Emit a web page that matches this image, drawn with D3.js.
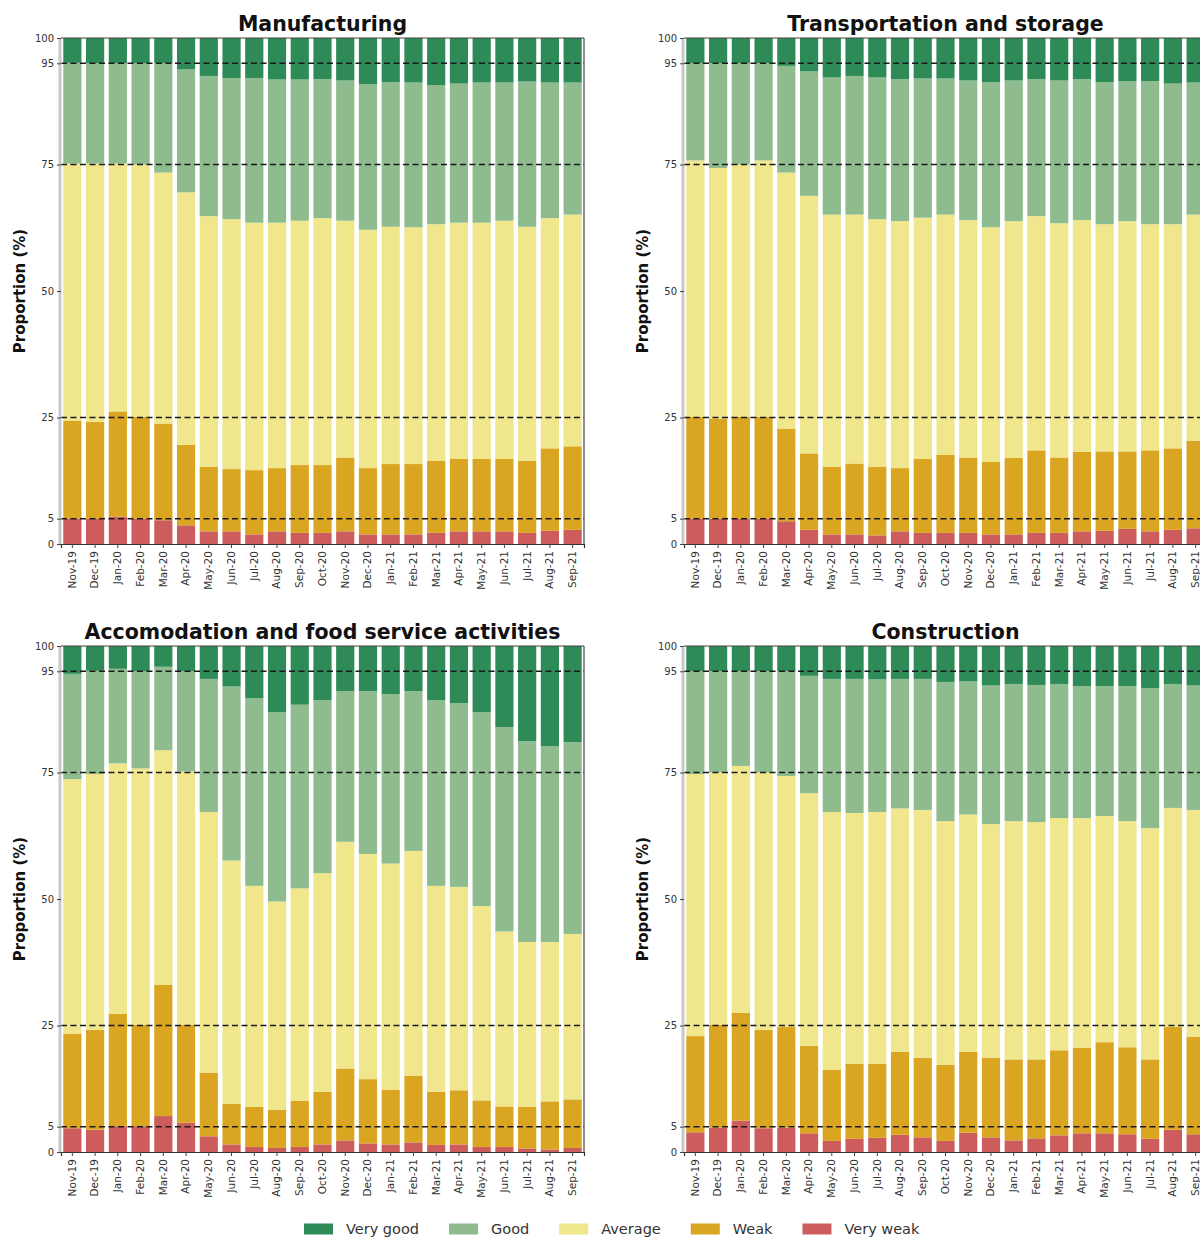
<!DOCTYPE html>
<html>
<head>
<meta charset="utf-8">
<script src="https://cdn.jsdelivr.net/npm/d3@7"></script>
<style>
  body { margin: 0; background: #fff; }
  svg { display: block; font-family: "DejaVu Sans", sans-serif; }
</style>
</head>
<body>
<svg id="chart" width="1200" height="1238"></svg>
<script>
// months on the x axis
let months = ["Nov-19", "Dec-19", "Jan-20", "Feb-20", "Mar-20", "Apr-20", "May-20", "Jun-20",
  "Jul-20", "Aug-20", "Sep-20", "Oct-20", "Nov-20", "Dec-20", "Jan-21", "Feb-21", "Mar-21",
  "Apr-21", "May-21", "Jun-21", "Jul-21", "Aug-21", "Sep-21"];

let levels = ["Very weak", "Weak", "Average", "Good", "Very good"];
let colors = ["#cd5c5c", "#daa520", "#f0e68c", "#8fbc8f", "#2e8b57"];
let yTicks = [0, 5, 25, 50, 75, 95, 100];
let refLines = [5, 25, 75, 95];

// Manufacturing (%)
let mfgVeryWeak = [5.0, 5.0, 5.4, 5.0, 4.7, 3.7, 2.5, 2.5, 1.9, 2.5, 2.2, 2.2, 2.5, 1.9, 1.9, 1.9, 2.2, 2.5, 2.5, 2.5, 2.2, 2.6, 2.8];
let mfgWeak = [19.4, 19.1, 20.8, 20.1, 19.1, 15.9, 12.8, 12.3, 12.7, 12.5, 13.4, 13.4, 14.6, 13.1, 13.9, 13.9, 14.2, 14.3, 14.3, 14.3, 14.2, 16.3, 16.5];
let mfgAverage = [50.8, 51.1, 49.0, 49.9, 49.6, 49.9, 49.5, 49.4, 48.9, 48.5, 48.3, 48.8, 46.8, 47.1, 46.9, 46.8, 46.8, 46.7, 46.7, 47.1, 46.3, 45.5, 45.8];
let mfgGood = [19.9, 19.8, 19.8, 20.0, 21.6, 24.3, 27.7, 27.9, 28.6, 28.3, 27.9, 27.5, 27.7, 28.8, 28.6, 28.6, 27.5, 27.5, 27.7, 27.3, 28.7, 26.8, 26.1];
let mfgVeryGood = [4.9, 5.0, 5.0, 5.0, 5.0, 6.2, 7.5, 7.9, 7.9, 8.2, 8.2, 8.1, 8.4, 9.1, 8.7, 8.8, 9.3, 9.0, 8.8, 8.8, 8.6, 8.8, 8.8];

// Transportation and storage (%)
let trnVeryWeak = [5.0, 5.0, 5.0, 5.0, 4.5, 2.8, 1.9, 1.9, 1.7, 2.5, 2.2, 2.2, 2.2, 1.9, 1.9, 2.2, 2.2, 2.5, 2.6, 3.0, 2.5, 2.8, 3.1];
let trnWeak = [20.1, 19.8, 20.1, 20.1, 18.3, 15.1, 13.4, 14.0, 13.6, 12.5, 14.6, 15.4, 14.9, 14.3, 15.1, 16.3, 14.9, 15.7, 15.7, 15.3, 16.0, 16.1, 17.3];
let trnAverage = [50.7, 49.5, 49.9, 50.7, 50.6, 50.9, 49.8, 49.2, 48.9, 48.8, 47.7, 47.5, 46.9, 46.4, 46.8, 46.3, 46.3, 45.8, 44.9, 45.5, 44.7, 44.3, 44.7];
let trnGood = [19.2, 20.7, 20.0, 19.2, 21.1, 24.6, 27.1, 27.4, 28.0, 28.1, 27.5, 26.9, 27.6, 28.7, 27.8, 27.1, 28.2, 27.9, 28.1, 27.7, 28.3, 27.8, 26.1];
let trnVeryGood = [5.0, 5.0, 5.0, 5.0, 5.5, 6.6, 7.8, 7.5, 7.8, 8.1, 8.0, 8.0, 8.4, 8.7, 8.4, 8.1, 8.4, 8.1, 8.7, 8.5, 8.5, 9.0, 8.8];

// Accomodation and food service activities (%)
let accVeryWeak = [4.7, 4.4, 5.1, 5.1, 7.1, 5.8, 3.1, 1.5, 1.0, 0.8, 1.0, 1.5, 2.3, 1.7, 1.5, 1.9, 1.4, 1.5, 1.0, 1.0, 0.7, 0.5, 0.8];
let accWeak = [18.7, 19.7, 22.2, 20.0, 25.9, 19.3, 12.6, 8.0, 7.9, 7.5, 9.1, 10.4, 14.2, 12.7, 10.8, 13.2, 10.5, 10.7, 9.2, 8.0, 8.2, 9.5, 9.6];
let accAverage = [50.3, 50.6, 49.5, 50.7, 46.4, 50.1, 51.5, 48.1, 43.7, 41.2, 42.0, 43.2, 44.8, 44.5, 44.7, 44.4, 40.7, 40.2, 38.4, 34.6, 32.6, 31.5, 32.7];
let accGood = [20.8, 20.4, 18.7, 19.2, 16.5, 19.8, 26.3, 34.4, 37.1, 37.4, 36.3, 34.2, 29.8, 32.2, 33.5, 31.6, 36.7, 36.3, 38.3, 40.4, 39.7, 38.7, 37.9];
let accVeryGood = [5.5, 4.9, 4.5, 5.0, 4.1, 5.0, 6.5, 8.0, 10.3, 13.1, 11.6, 10.7, 8.9, 8.9, 9.5, 8.9, 10.7, 11.3, 13.1, 16.0, 18.8, 19.8, 19.0];

// Construction (%)
let conVeryWeak = [3.9, 4.8, 6.2, 4.7, 4.8, 3.7, 2.2, 2.6, 2.8, 3.4, 2.9, 2.2, 3.8, 2.9, 2.3, 2.7, 3.3, 3.7, 3.7, 3.5, 2.6, 4.4, 3.5];
let conWeak = [19.0, 20.3, 21.3, 19.4, 19.9, 17.3, 14.0, 14.8, 14.6, 16.4, 15.7, 15.0, 16.0, 15.7, 16.0, 15.6, 16.8, 16.9, 18.0, 17.2, 15.7, 20.3, 19.3];
let conAverage = [51.8, 49.9, 48.8, 50.9, 49.6, 49.9, 51.0, 49.6, 49.8, 48.1, 49.0, 48.2, 46.9, 46.2, 47.1, 46.9, 45.9, 45.4, 44.7, 44.7, 45.7, 43.3, 44.8];
let conGood = [20.3, 20.0, 18.7, 20.0, 20.7, 23.2, 26.3, 26.5, 26.2, 25.6, 25.9, 27.5, 26.3, 27.4, 27.1, 27.1, 26.5, 26.1, 25.7, 26.7, 27.7, 24.5, 24.6];
let conVeryGood = [5.0, 5.0, 5.0, 5.0, 5.0, 5.9, 6.5, 6.5, 6.6, 6.5, 6.5, 7.1, 7.0, 7.8, 7.5, 7.7, 7.5, 7.9, 7.9, 7.9, 8.3, 7.5, 7.8];

let sectors = [
  { title: "Manufacturing", series: [mfgVeryWeak, mfgWeak, mfgAverage, mfgGood, mfgVeryGood], x: 61, y: 38 },
  { title: "Transportation and storage", series: [trnVeryWeak, trnWeak, trnAverage, trnGood, trnVeryGood], x: 684, y: 38 },
  { title: "Accomodation and food service activities", series: [accVeryWeak, accWeak, accAverage, accGood, accVeryGood], x: 61, y: 646 },
  { title: "Construction", series: [conVeryWeak, conWeak, conAverage, conGood, conVeryGood], x: 684, y: 646 }
];

let plotW = 523, plotH = 506;
let svg = d3.select("#chart");

let x = d3.scaleBand().domain(months).range([0, plotW]).paddingInner(0.2).paddingOuter(0.1);
let y = d3.scaleLinear().domain([0, 100]).range([plotH, 0]);
let color = d3.scaleOrdinal().domain(levels).range(colors);

function drawPanel(s) {
  let rows = months.map(function (m, i) {
    let r = { month: m };
    levels.forEach(function (l, j) { r[l] = s.series[j][i]; });
    return r;
  });
  let stacked = d3.stack().keys(levels)(rows);

  let g = svg.append("g").attr("transform", "translate(" + s.x + "," + s.y + ")");

  g.selectAll("g.layer")
    .data(stacked)
    .enter()
    .append("g")
    .attr("class", "layer")
    .attr("fill", function (d) { return color(d.key); })
    .selectAll("rect")
    .data(function (d) { return d; })
    .enter()
    .append("rect")
    .attr("x", function (d) { return x(d.data.month); })
    .attr("width", x.bandwidth())
    .attr("y", function (d) { return y(d[1]); })
    .attr("height", function (d) { return y(d[0]) - y(d[1]); });

  // dashed reference lines
  g.selectAll("line.ref")
    .data(refLines)
    .enter()
    .append("line")
    .attr("class", "ref")
    .attr("x1", 0).attr("x2", plotW)
    .attr("y1", function (d) { return y(d); })
    .attr("y2", function (d) { return y(d); })
    .attr("stroke", "#1a1a1a")
    .attr("stroke-width", 1.6)
    .attr("stroke-dasharray", "6,3.5");

  // spines
  g.append("line").attr("x1", -1).attr("x2", -1).attr("y1", 0).attr("y2", plotH)
    .attr("stroke", "#c8c8c8").attr("stroke-width", 3);
  g.append("line").attr("x1", 0).attr("x2", plotW).attr("y1", 0).attr("y2", 0)
    .attr("stroke", "#444").attr("stroke-width", 1.2);
  g.append("line").attr("x1", plotW).attr("x2", plotW).attr("y1", 0).attr("y2", plotH)
    .attr("stroke", "#444").attr("stroke-width", 1.2);

  // y axis
  let ya = g.append("g")
    .call(d3.axisLeft(y).tickValues(yTicks).tickSize(4).tickPadding(3));
  ya.select(".domain").remove();
  ya.selectAll("line").attr("stroke", "#444");
  ya.selectAll("text").attr("font-size", 10).attr("fill", "#333")
    .attr("font-family", "DejaVu Sans, sans-serif");

  // x axis
  let xa = g.append("g")
    .attr("transform", "translate(0," + plotH + ")")
    .call(d3.axisBottom(x).tickSize(4).tickPadding(3));
  xa.select(".domain").attr("stroke", "#333").attr("stroke-width", 1.2);
  xa.selectAll("line").attr("stroke", "#444");
  xa.selectAll("text")
    .attr("font-size", 10.5)
    .attr("fill", "#333")
    .attr("font-family", "DejaVu Sans, sans-serif")
    .attr("transform", "rotate(-90)")
    .attr("text-anchor", "end")
    .attr("x", -7)
    .attr("y", 0)
    .attr("dy", "0.32em");

  // title + y label
  g.append("text")
    .attr("x", plotW / 2)
    .attr("y", -7)
    .attr("text-anchor", "middle")
    .attr("font-size", 20.5)
    .attr("font-weight", "bold")
    .attr("fill", "#111")
    .text(s.title);

  g.append("text")
    .attr("transform", "translate(-41," + (plotH / 2) + ") rotate(-90)")
    .attr("text-anchor", "middle")
    .attr("dy", "0.35em")
    .attr("font-size", 15)
    .attr("font-weight", "bold")
    .attr("fill", "#111")
    .text("Proportion (%)");
}

sectors.forEach(drawPanel);

// legend, top level first
let legendOrder = levels.slice().reverse();
let legend = svg.append("g").attr("transform", "translate(304,1229)");
let lx = 0;
legendOrder.forEach(function (l) {
  let item = legend.append("g").attr("transform", "translate(" + lx + ",0)");
  item.append("rect")
    .attr("x", 0).attr("y", -5.5)
    .attr("width", 29).attr("height", 11)
    .attr("fill", color(l));
  let t = item.append("text")
    .attr("x", 42)
    .attr("dy", "0.35em")
    .attr("font-size", 14.5)
    .attr("fill", "#333")
    .text(l);
  lx += 42 + t.node().getComputedTextLength() + 30;
});
</script>
</body>
</html>
